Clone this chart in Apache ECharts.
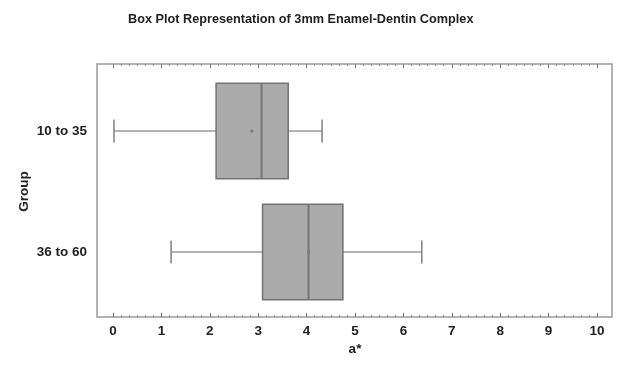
<!DOCTYPE html>
<html>
<head>
<meta charset="utf-8">
<script src="https://cdn.jsdelivr.net/npm/echarts@6/dist/echarts.min.js"></script>
<style>
  html, body { margin: 0; padding: 0; background: #fff; }
  #chart { width: 618px; height: 383px; }
</style>
</head>
<body>
<div id="chart"></div>
<script>
// Groups (age ranges) and their five-number summaries plus mean, in a* units
var groups = ['10 to 35', '36 to 60'];
var whiskerLow = [0.02, 1.20];
var quartile1 = [2.13, 3.09];
var medians = [3.07, 4.04];
var quartile3 = [3.62, 4.75];
var whiskerHigh = [4.32, 6.38];
var means = [2.87, 4.04];
var xTicks = [0, 1, 2, 3, 4, 5, 6, 7, 8, 9, 10];

var FONT = 'Liberation Sans, Arial, sans-serif';
var TEXT = '#222';
var LABEL_SIZE = 13.5;

var rows = groups.map(function (g, i) {
  return [i, whiskerLow[i], quartile1[i], medians[i], quartile3[i], whiskerHigh[i], means[i]];
});

function renderBox(params, api) {
  var cat = api.value(0);
  var band = api.size([0, 1])[1];
  var boxH = band * 0.79;
  var capH = band * 0.19;
  var pLow = api.coord([api.value(1), cat]);
  var pQ1 = api.coord([api.value(2), cat]);
  var pMed = api.coord([api.value(3), cat]);
  var pQ3 = api.coord([api.value(4), cat]);
  var pHigh = api.coord([api.value(5), cat]);
  var pMean = api.coord([api.value(6), cat]);
  var cy = pMed[1];
  var whisker = { stroke: '#9a9a9a', lineWidth: 1.6 };
  var cap = { stroke: '#888', lineWidth: 1.6 };
  return {
    type: 'group',
    children: [
      { type: 'line', shape: { x1: pLow[0], y1: cy, x2: pQ1[0], y2: cy }, style: whisker },
      { type: 'line', shape: { x1: pQ3[0], y1: cy, x2: pHigh[0], y2: cy }, style: whisker },
      { type: 'line', shape: { x1: pLow[0], y1: cy - capH / 2, x2: pLow[0], y2: cy + capH / 2 }, style: cap },
      { type: 'line', shape: { x1: pHigh[0], y1: cy - capH / 2, x2: pHigh[0], y2: cy + capH / 2 }, style: cap },
      { type: 'rect', shape: { x: pQ1[0], y: cy - boxH / 2, width: pQ3[0] - pQ1[0], height: boxH },
        style: { fill: '#ababab', stroke: '#727272', lineWidth: 1.5 } },
      { type: 'circle', shape: { cx: pMean[0], cy: cy, r: 1.8 }, style: { fill: '#7e7e7e' } },
      { type: 'line', shape: { x1: pMed[0], y1: cy - boxH / 2, x2: pMed[0], y2: cy + boxH / 2 },
        style: { stroke: '#7a7a7a', lineWidth: 2.2 } }
    ]
  };
}

var chart = echarts.init(document.getElementById('chart'), null, { renderer: 'canvas' });

chart.setOption({
  animation: false,
  backgroundColor: '#fff',
  title: {
    text: 'Box Plot Representation of 3mm Enamel-Dentin Complex',
    left: 128, top: 13, padding: 0,
    textStyle: { fontFamily: FONT, fontSize: 12.7, fontWeight: 'bold', color: TEXT }
  },
  grid: [
    // outer frame
    { left: 97, right: 6, top: 64, bottom: 66, show: true, borderColor: '#9a9a9a', borderWidth: 1.5, backgroundColor: 'transparent' },
    // tick scale
    { left: 113, right: 21, top: 64, bottom: 66 },
    // boxes
    { left: 113, right: 21, top: 70.5, bottom: 70.5 }
  ],
  xAxis: [
    { gridIndex: 0, type: 'value', show: false, min: 0, max: 1 },
    {
      gridIndex: 1, type: 'value', position: 'bottom', min: 0, max: 10, interval: 1,
      name: 'a*', nameLocation: 'middle', nameGap: 25, nameMoveOverlap: false,
      nameTextStyle: { fontFamily: FONT, fontSize: LABEL_SIZE, fontWeight: 'bold', color: TEXT },
      axisLine: { show: false },
      axisTick: { show: true, inside: true, length: 4, lineStyle: { color: '#777', width: 1 } },
      minorTick: { show: true, splitNumber: 6, length: 2, lineStyle: { color: '#888', width: 1 } },
      splitLine: { show: false },
      axisLabel: {
        margin: 7, fontFamily: FONT, fontSize: LABEL_SIZE, fontWeight: 'bold', color: TEXT,
        formatter: function (v) { return xTicks.indexOf(v) >= 0 ? String(v) : ''; }
      }
    },
    {
      gridIndex: 1, type: 'value', position: 'top', min: 0, max: 10, interval: 1,
      axisLine: { show: false },
      axisTick: { show: true, inside: true, length: 4, lineStyle: { color: '#777', width: 1 } },
      minorTick: { show: true, splitNumber: 6, length: 2, lineStyle: { color: '#888', width: 1 } },
      splitLine: { show: false },
      axisLabel: { show: false }
    },
    { gridIndex: 2, type: 'value', show: false, min: 0, max: 10 }
  ],
  yAxis: [
    { gridIndex: 0, type: 'value', show: false, min: 0, max: 1 },
    { gridIndex: 1, type: 'value', show: false, min: 0, max: 1 },
    {
      gridIndex: 2, type: 'category', data: groups, inverse: true,
      name: 'Group', nameLocation: 'middle', nameGap: 82, nameRotate: 90, nameMoveOverlap: false,
      nameTextStyle: { fontFamily: FONT, fontSize: LABEL_SIZE, fontWeight: 'bold', color: TEXT },
      axisLine: { show: false },
      axisTick: { show: false },
      splitLine: { show: false },
      axisLabel: { margin: 26, fontFamily: FONT, fontSize: LABEL_SIZE, fontWeight: 'bold', color: TEXT }
    }
  ],
  series: [{
    type: 'custom',
    xAxisIndex: 3,
    yAxisIndex: 2,
    renderItem: renderBox,
    encode: { x: [1, 2, 3, 4, 5, 6], y: 0 },
    data: rows
  }]
});
</script>
</body>
</html>
